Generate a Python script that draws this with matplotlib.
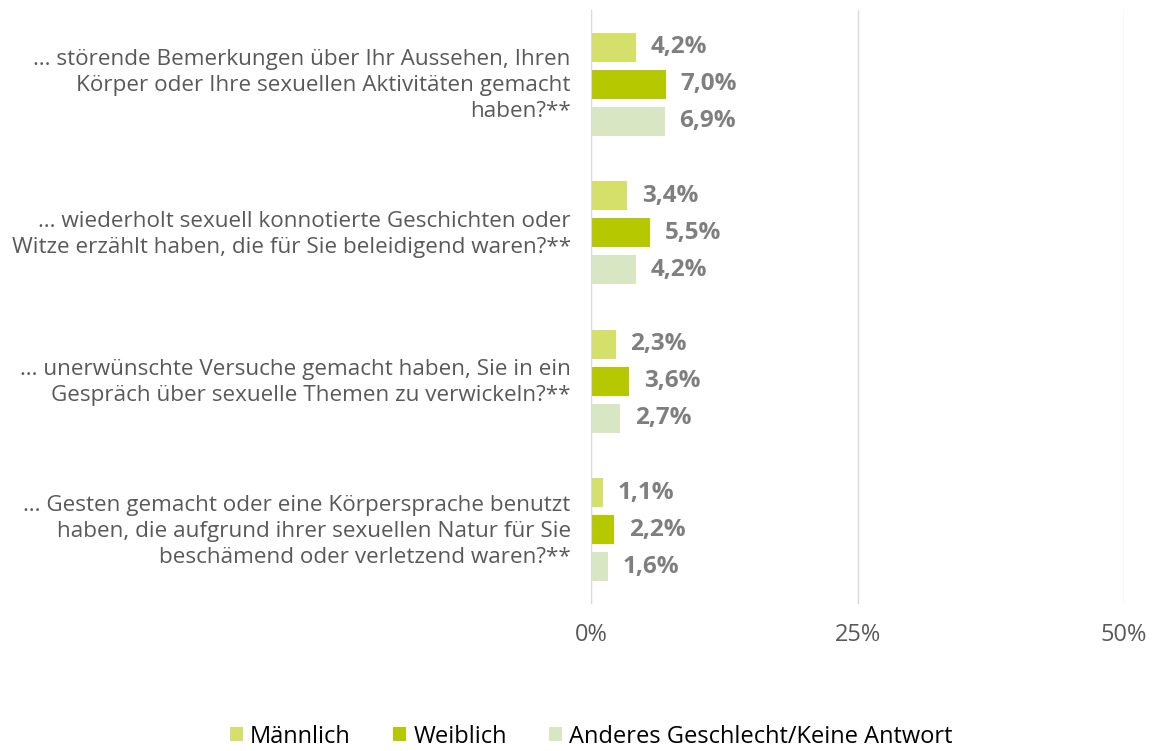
import matplotlib.pyplot as plt
import numpy as np
from matplotlib.patches import Patch

plt.rcParams['font.family'] = ['Open Sans', 'DejaVu Sans']

categories = [
    '… störende Bemerkungen über Ihr Aussehen, Ihren\nKörper oder Ihre sexuellen Aktivitäten gemacht\nhaben?**',
    '… wiederholt sexuell konnotierte Geschichten oder\nWitze erzählt haben, die für Sie beleidigend waren?**',
    '… unerwünschte Versuche gemacht haben, Sie in ein\nGespräch über sexuelle Themen zu verwickeln?**',
    '… Gesten gemacht oder eine Körpersprache benutzt\nhaben, die aufgrund ihrer sexuellen Natur für Sie\nbeschämend oder verletzend waren?**',
]
series_names = ['Männlich', 'Weiblich', 'Anderes Geschlecht/Keine Antwort']
maennlich = [4.2, 3.4, 2.3, 1.1]
weiblich = [7.0, 5.5, 3.6, 2.2]
anderes = [6.9, 4.2, 2.7, 1.6]
xticks = [0, 25, 50]

colors = ['#D4E06A', '#B5C800', '#D9E6C3']
text_gray = '#595959'
val_gray = '#7F7F7F'

fig = plt.figure(figsize=(11.53, 7.51), dpi=100)
ax = fig.add_axes([591 / 1153, 1 - 604 / 751, (1124 - 591) / 1153, (604 - 10) / 751])

y = np.arange(len(categories))
bar_h = 29 / 148
step = 37 / 148
for k, (vals, col) in enumerate(zip([maennlich, weiblich, anderes], colors)):
    pos = y + (k - 1) * step
    ax.barh(pos, vals, height=bar_h, color=col, zorder=3)
    for p, v in zip(pos, vals):
        ax.text(v + 1.4, p, f'{v:.1f}%'.replace('.', ','), va='center', ha='left',
                fontsize=17.5, fontweight='bold', color=val_gray)

ax.set_xlim(0, 50)
ax.set_ylim(len(categories) - 0.5, -0.5)
ax.set_xticks(xticks)
ax.set_xticklabels([f'{t}%' for t in xticks])
ax.set_yticks([])
ax.grid(axis='x', color='#D9D9D9', linewidth=1, zorder=0)
for s in ['top', 'right', 'bottom', 'left']:
    ax.spines[s].set_visible(False)
ax.axvline(0, color='#D9D9D9', linewidth=1.5, zorder=4)
ax.tick_params(axis='x', length=0, pad=14, labelsize=17, labelcolor=text_gray)

for i, c in enumerate(categories):
    ax.text(-1.9, i + 0.01, c, ha='right', va='center', fontsize=16.2, color=text_gray,
            linespacing=1.3)

handles = [Patch(facecolor=c, edgecolor='none') for c in colors]
fig.legend(handles, series_names, loc='lower center', bbox_to_anchor=(0.513, -0.025),
           ncol=3, frameon=False, fontsize=17, handlelength=0.55, handleheight=0.55,
           handletextpad=0.3, columnspacing=1.8, labelcolor='#000000')

fig.savefig('out.png', dpi=100)
